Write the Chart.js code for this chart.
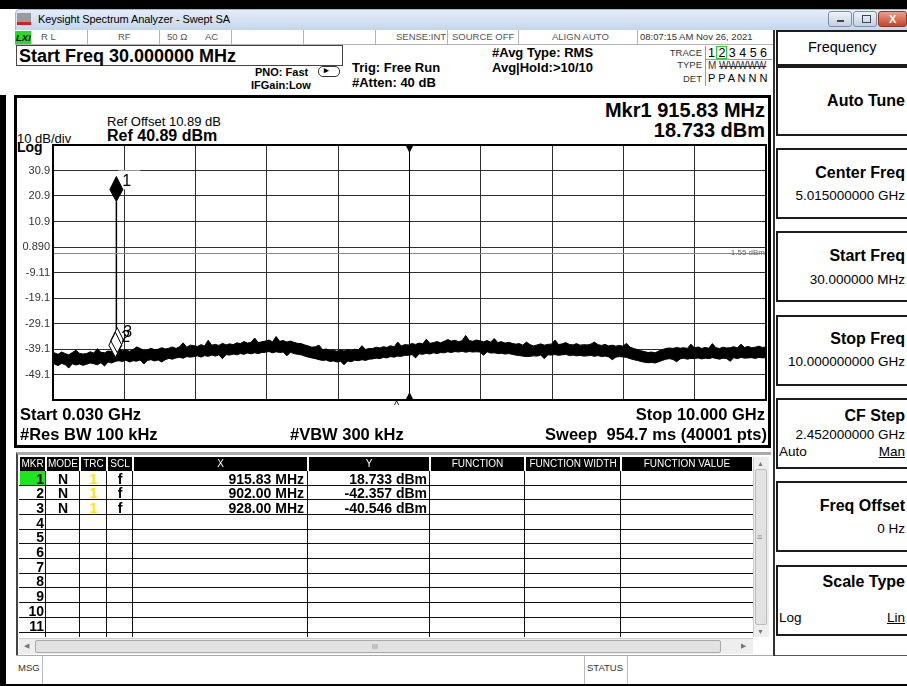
<!DOCTYPE html>
<html>
<head>
<meta charset="utf-8">
<title>Keysight Spectrum Analyzer - Swept SA</title>
<script src="https://cdn.jsdelivr.net/npm/chart.js@4.4.1/dist/chart.umd.min.js"></script>
<style>
html, body { margin: 0; padding: 0; }
body { width: 907px; height: 686px; position: relative; overflow: hidden; background: #fff; font-family: "Liberation Sans", Arial, sans-serif; color: #000; }
.a { position: absolute; white-space: pre; line-height: 1; }
.b { font-weight: bold; }
.st { font-size: 9.5px; color: #555; }
.sep { position: absolute; top: 30px; width: 1px; height: 14px; background: #b4b4b4; }
.sk { position: absolute; left: 776px; width: 131px; border: 2px solid #1c1c1c; border-right: none; box-sizing: border-box; background: #fff; }
.skt { font-size: 16px; font-weight: bold; right: 2px; }
.skv { font-size: 13.5px; right: 2px; }
.wb { position: absolute; top: 11px; height: 16px; border: 1px solid #7d8ea5; border-radius: 3px; box-sizing: border-box; background: linear-gradient(#eef3fa, #c3d1e4); }
.hd { position: absolute; top: 457px; height: 14px; background: #000; color: #fff; font-size: 10px; line-height: 14px; text-align: center; }
.cell { position: absolute; font-size: 14px; font-weight: bold; line-height: 14px; }
</style>
</head>
<body>

<!-- window frame -->
<div class="a" style="left:0;top:0;width:907px;height:9px;background:#000"></div>
<div class="a" style="left:0;top:95px;width:6px;height:591px;background:#000"></div>
<div class="a" style="left:0;top:684px;width:907px;height:2px;background:#000"></div>

<!-- title bar -->
<div class="a" style="left:15px;top:9px;width:892px;height:21px;background:linear-gradient(#e4edf8,#c5d6eb);border-top:1px solid #9fb4cf;border-left:1px solid #9fb4cf;border-radius:5px 0 0 0;box-sizing:border-box"></div>
<div class="a" style="left:17px;top:13px;width:14px;height:12px;background:#9a9a9a;border-bottom:3px solid #d42020;box-sizing:border-box"></div>
<div class="a" style="left:38px;top:14px;font-size:11px;letter-spacing:-0.1px">Keysight Spectrum Analyzer - Swept SA</div>
<div class="wb" style="left:828px;width:24px"><div class="a" style="left:8px;top:8px;width:7px;height:2px;background:#444"></div></div>
<div class="wb" style="left:853px;width:24px"><div class="a" style="left:8px;top:3px;width:7px;height:6px;border:1px solid #444"></div></div>
<div class="wb" style="left:878px;width:29px;background:linear-gradient(#e9a08e,#c4452c);border-color:#8b3a2c"><div class="a b" style="left:10px;top:2px;font-size:11px;color:#fff">X</div></div>

<!-- status row -->
<div class="a" style="left:15px;top:30px;width:758px;height:15px;border-bottom:1px solid #b4b4b4;box-sizing:border-box"></div>
<div class="a" style="left:15px;top:31px;width:16px;height:13px;background:#22dd22"></div>
<div class="a b" style="left:16px;top:33px;font-size:9.5px;font-style:italic">LXI</div>
<div class="a st" style="left:41px;top:32px">R L</div>
<div class="sep" style="left:87px"></div>
<div class="a st" style="left:118px;top:32px">RF</div>
<div class="sep" style="left:159px"></div>
<div class="a st" style="left:167px;top:32px">50 Ω</div>
<div class="a st" style="left:205px;top:32px">AC</div>
<div class="sep" style="left:231px"></div>
<div class="sep" style="left:303px"></div>
<div class="sep" style="left:375px"></div>
<div class="a st" style="left:396px;top:32px">SENSE:INT</div>
<div class="sep" style="left:447px"></div>
<div class="a st" style="left:452px;top:32px">SOURCE OFF</div>
<div class="sep" style="left:518px"></div>
<div class="a st" style="left:552px;top:32px">ALIGN AUTO</div>
<div class="sep" style="left:637px"></div>
<div class="a st" style="left:640px;top:32px;color:#333">08:07:15 AM Nov 26, 2021</div>

<!-- settings -->
<div class="a" style="left:16px;top:45px;width:327px;height:21px;border:1px solid #444;box-sizing:border-box"></div>
<div class="a b" style="left:19px;top:47px;font-size:18px">Start Freq 30.000000 MHz</div>
<div class="a b" style="left:255px;top:67px;font-size:11px">PNO: Fast</div>
<div class="a" style="left:318px;top:66px;width:20px;height:9px;border:1px solid #333;border-radius:5px"></div>
<div class="a b" style="left:324px;top:66px;font-size:9px">&#9656;</div>
<div class="a b" style="left:251px;top:80px;font-size:11px">IFGain:Low</div>
<div class="a b" style="left:352px;top:61px;font-size:13px">Trig: Free Run</div>
<div class="a b" style="left:352px;top:76px;font-size:13px">#Atten: 40 dB</div>
<div class="a b" style="left:492px;top:46px;font-size:13px">#Avg Type: RMS</div>
<div class="a b" style="left:492px;top:61px;font-size:13px">Avg|Hold:&gt;10/10</div>

<div class="a" style="right:205px;top:48px;font-size:9.5px;color:#333">TRACE</div>
<div class="a" style="right:205px;top:60px;font-size:9.5px;color:#333">TYPE</div>
<div class="a" style="right:205px;top:74px;font-size:9.5px;color:#333">DET</div>
<div class="a" style="left:705px;top:46px;width:1px;height:40px;background:#999"></div>
<div class="a" style="left:705px;top:59px;width:67px;height:1px;background:#999"></div>
<div class="a" style="left:716px;top:46px;width:11px;height:13px;border:1px solid #3c3;box-sizing:border-box"></div>
<div class="a" style="left:708px;top:47px;font-size:12.5px">1 2 3 4 5 6</div>
<div class="a" style="left:708px;top:61px;font-size:10px;color:#333">M <s>WWWWW</s></div>
<div class="a" style="left:708px;top:73px;font-size:11px">P P A N N N</div>

<!-- plot frame -->
<div class="a" style="left:14px;top:95px;width:757px;height:353px;border:3px solid #000;box-sizing:border-box"></div>
<div class="a" style="left:107px;top:115px;font-size:13px">Ref Offset 10.89 dB</div>
<div class="a b" style="left:107px;top:128px;font-size:16px">Ref 40.89 dBm</div>
<div class="a" style="left:17px;top:132px;font-size:13px">10 dB/div</div>
<div class="a b" style="left:17px;top:140px;font-size:14px">Log</div>
<div class="a b" style="right:142px;top:100px;font-size:20px">Mkr1 915.83 MHz</div>
<div class="a b" style="right:142px;top:120px;font-size:20px">18.733 dBm</div>
<div class="a" style="left:18px;top:99px;width:750px;height:347px"><canvas id="sa" width="750" height="347"></canvas></div>
<div class="a" style="left:394px;top:400px;font-size:11px">^</div>
<div class="a b" style="left:20px;top:406px;font-size:16.5px">Start 0.030 GHz</div>
<div class="a b" style="right:142px;top:406px;font-size:16.5px">Stop 10.000 GHz</div>
<div class="a b" style="left:20px;top:426px;font-size:16.5px">#Res BW 100 kHz</div>
<div class="a b" style="left:290px;top:426px;font-size:16.5px">#VBW 300 kHz</div>
<div class="a b" style="right:140px;top:426px;font-size:16.5px">Sweep  954.7 ms (40001 pts)</div>

<!-- marker table -->
<div class="a" style="left:16px;top:452px;width:755px;height:203px;border-left:2px solid #444;border-top:3px solid #aaa;box-sizing:border-box"></div>
<div id="table"></div>
<div class="a" style="left:753px;top:457px;width:16px;height:180px;background:#eee;border-left:1px solid #ccc;box-sizing:border-box"></div>
<div class="a" style="left:757px;top:460px;font-size:7px;color:#777">&#9650;</div>
<div class="a" style="left:755px;top:469px;width:12px;height:156px;background:#e2e2e2;border:1px solid #bbb;border-radius:2px;box-sizing:border-box"></div>
<div class="a" style="left:757px;top:533px;font-size:9px;color:#888">&#8801;</div>
<div class="a" style="left:757px;top:628px;font-size:7px;color:#777">&#9660;</div>
<div class="a" style="left:19px;top:638px;width:734px;height:16px;background:#eee;border-top:1px solid #ccc;box-sizing:border-box"></div>
<div class="a" style="left:24px;top:642px;font-size:7px;color:#777">&#9664;</div>
<div class="a" style="left:35px;top:640px;width:686px;height:13px;background:#e2e2e2;border:1px solid #aaa;border-radius:2px;box-sizing:border-box"></div>
<div class="a" style="left:372px;top:643px;font-size:7px;color:#888">III</div>
<div class="a" style="left:741px;top:642px;font-size:7px;color:#777">&#9654;</div>

<!-- message bar -->
<div class="a" style="left:16px;top:655px;width:891px;height:1px;background:#aaa"></div>
<div class="a" style="left:18px;top:663px;font-size:9.5px;color:#333">MSG</div>
<div class="a" style="left:42px;top:656px;width:1px;height:28px;background:#bbb"></div>
<div class="a" style="left:584px;top:656px;width:1px;height:28px;background:#bbb"></div>
<div class="a" style="left:587px;top:663px;font-size:9.5px;color:#333">STATUS</div>
<div class="a" style="left:627px;top:656px;width:1px;height:28px;background:#bbb"></div>

<!-- softkey panel -->
<div class="a" style="left:773px;top:30px;width:2px;height:626px;background:#333"></div>
<div class="sk" style="top:30px;height:36px"></div>
<div class="a" style="left:808px;top:40px;font-size:14.5px">Frequency</div>
<div class="sk" style="top:66px;height:70px"></div>
<div class="a skt" style="top:93px">Auto Tune</div>
<div class="sk" style="top:148px;height:71px"></div>
<div class="a skt" style="top:165px">Center Freq</div>
<div class="a skv" style="top:189px">5.015000000 GHz</div>
<div class="sk" style="top:231px;height:71px"></div>
<div class="a skt" style="top:248px">Start Freq</div>
<div class="a skv" style="top:273px">30.000000 MHz</div>
<div class="sk" style="top:315px;height:71px"></div>
<div class="a skt" style="top:331px">Stop Freq</div>
<div class="a skv" style="top:355px">10.000000000 GHz</div>
<div class="sk" style="top:398px;height:71px"></div>
<div class="a skt" style="top:408px">CF Step</div>
<div class="a skv" style="top:428px">2.452000000 GHz</div>
<div class="a" style="left:779px;top:445px;font-size:13.5px">Auto</div>
<div class="a skv" style="top:445px;text-decoration:underline">Man</div>
<div class="sk" style="top:481px;height:71px"></div>
<div class="a skt" style="top:498px">Freq Offset</div>
<div class="a skv" style="top:522px">0 Hz</div>
<div class="sk" style="top:565px;height:71px"></div>
<div class="a skt" style="top:574px">Scale Type</div>
<div class="a" style="left:779px;top:611px;font-size:13.5px">Log</div>
<div class="a skv" style="top:611px;text-decoration:underline">Lin</div>
<div class="a" style="left:775px;top:655px;width:132px;height:1px;background:#555"></div>

<script>
// sweep: 0.030 - 10.000 GHz, trace 1 shown as max/min envelope of the noise floor
const freqGHz = [
  0.03, 0.05, 0.10, 0.15, 0.20, 0.25, 0.30, 0.35, 0.40, 0.45,
  0.50, 0.55, 0.60, 0.65, 0.70, 0.75, 0.80, 0.85, 0.90, 0.95,
  1.00, 1.05, 1.10, 1.15, 1.20, 1.25, 1.30, 1.35, 1.40, 1.45,
  1.50, 1.55, 1.60, 1.65, 1.70, 1.75, 1.80, 1.85, 1.90, 1.95,
  2.00, 2.05, 2.10, 2.15, 2.20, 2.25, 2.30, 2.35, 2.40, 2.45,
  2.50, 2.55, 2.60, 2.65, 2.70, 2.75, 2.80, 2.85, 2.90, 2.95,
  3.00, 3.05, 3.10, 3.15, 3.20, 3.25, 3.30, 3.35, 3.40, 3.45,
  3.50, 3.55, 3.60, 3.65, 3.70, 3.75, 3.80, 3.85, 3.90, 3.95,
  4.00, 4.05, 4.10, 4.15, 4.20, 4.25, 4.30, 4.35, 4.40, 4.45,
  4.50, 4.55, 4.60, 4.65, 4.70, 4.75, 4.80, 4.85, 4.90, 4.95,
  5.00, 5.05, 5.10, 5.15, 5.20, 5.25, 5.30, 5.35, 5.40, 5.45,
  5.50, 5.55, 5.60, 5.65, 5.70, 5.75, 5.80, 5.85, 5.90, 5.95,
  6.00, 6.05, 6.10, 6.15, 6.20, 6.25, 6.30, 6.35, 6.40, 6.45,
  6.50, 6.55, 6.60, 6.65, 6.70, 6.75, 6.80, 6.85, 6.90, 6.95,
  7.00, 7.05, 7.10, 7.15, 7.20, 7.25, 7.30, 7.35, 7.40, 7.45,
  7.50, 7.55, 7.60, 7.65, 7.70, 7.75, 7.80, 7.85, 7.90, 7.95,
  8.00, 8.05, 8.10, 8.15, 8.20, 8.25, 8.30, 8.35, 8.40, 8.45,
  8.50, 8.55, 8.60, 8.65, 8.70, 8.75, 8.80, 8.85, 8.90, 8.95,
  9.00, 9.05, 9.10, 9.15, 9.20, 9.25, 9.30, 9.35, 9.40, 9.45,
  9.50, 9.55, 9.60, 9.65, 9.70, 9.75, 9.80, 9.85, 9.90, 9.95,
  10.00
];
const traceMax = [
  -41.0, -40.6, -41.2, -40.3, -40.9, -41.4, -40.5, -39.6, -40.8, -41.1,
  -40.9, -40.2, -40.7, -39.0, -40.4, -40.6, -39.9, -40.1, -39.5, -39.2,
  -39.8, -39.4, -40.0, -39.3, -38.3, -38.9, -39.6, -39.5, -38.8, -39.4,
  -39.2, -38.6, -39.1, -38.8, -38.3, -38.9, -38.2, -36.7, -38.4, -37.6,
  -37.8, -38.1, -37.4, -37.9, -35.7, -37.6, -37.3, -37.7, -36.9, -37.5,
  -37.1, -37.4, -36.7, -37.0, -36.2, -36.8, -36.5, -34.8, -36.6, -36.3,
  -36.0, -35.6, -36.3, -34.2, -36.1, -35.8, -36.4, -36.0, -36.5, -36.9,
  -37.0, -37.5, -37.9, -38.4, -38.2, -37.6, -39.4, -39.1, -39.7, -39.6,
  -40.0, -39.5, -39.9, -39.4, -39.7, -39.2, -39.5, -37.8, -39.3, -38.9,
  -38.9, -38.4, -38.7, -38.2, -38.5, -37.8, -38.3, -36.4, -37.9, -37.4,
  -37.5, -37.0, -37.3, -36.8, -37.1, -35.3, -36.9, -36.6, -36.2, -36.7,
  -36.1, -35.4, -36.0, -35.7, -36.2, -35.9, -33.8, -35.8, -36.1, -35.6,
  -35.9, -36.3, -35.8, -36.4, -35.0, -36.6, -36.2, -36.8, -36.5, -36.9,
  -37.2, -37.0, -37.6, -36.4, -37.4, -37.9, -37.5, -37.1, -37.6, -37.3,
  -37.2, -35.6, -37.4, -37.1, -36.6, -37.3, -37.5, -37.0, -37.6, -37.4,
  -37.5, -37.2, -36.4, -37.4, -37.7, -37.3, -37.9, -37.6, -38.0, -37.7,
  -38.0, -36.9, -38.4, -38.9, -39.3, -39.8, -40.1, -40.5, -40.3, -40.6,
  -39.9, -39.4, -38.9, -38.7, -38.9, -38.5, -38.8, -38.6, -38.9, -37.2,
  -38.7, -38.3, -38.9, -38.5, -38.8, -37.0, -38.6, -38.9, -38.4, -38.7,
  -38.6, -38.2, -38.7, -37.2, -38.5, -38.1, -38.6, -38.4, -38.0, -38.5,
  -38.3
];
const traceMin = [
  -45.3, -45.0, -45.6, -44.8, -45.2, -46.6, -44.9, -45.4, -45.0, -45.5,
  -45.1, -44.6, -44.9, -45.3, -44.5, -45.8, -44.2, -44.6, -44.0, -43.7,
  -44.0, -43.5, -44.2, -43.7, -43.9, -43.4, -45.0, -43.6, -43.3, -43.8,
  -43.4, -44.2, -43.3, -42.8, -43.1, -42.6, -42.4, -42.7, -42.1, -42.3,
  -42.1, -41.8, -42.3, -41.7, -42.0, -41.5, -41.9, -41.4, -42.9, -41.3,
  -41.5, -41.1, -41.4, -40.9, -41.2, -40.7, -41.0, -40.6, -40.9, -40.5,
  -40.4, -40.1, -40.6, -40.2, -40.5, -40.3, -41.8, -40.4, -40.9, -41.2,
  -41.4, -41.9, -42.3, -42.6, -42.9, -43.3, -43.6, -43.4, -44.0, -43.8,
  -44.2, -43.9, -45.3, -43.8, -44.1, -43.5, -43.7, -43.3, -43.6, -43.1,
  -43.0, -42.7, -42.9, -42.4, -42.6, -42.1, -42.3, -41.9, -42.0, -41.6,
  -41.6, -41.3, -42.6, -41.0, -41.2, -40.8, -41.1, -40.6, -40.9, -40.5,
  -40.6, -40.2, -40.5, -40.1, -40.3, -40.0, -40.4, -40.1, -40.3, -40.2,
  -40.3, -41.6, -40.2, -40.7, -40.6, -40.9, -40.8, -41.1, -40.9, -41.2,
  -41.5, -41.7, -41.9, -42.1, -42.0, -41.8, -41.9, -41.5, -42.9, -41.4,
  -41.5, -41.3, -41.6, -41.4, -41.2, -41.7, -41.5, -41.8, -41.6, -41.9,
  -41.8, -41.6, -42.0, -41.7, -42.1, -41.9, -42.2, -43.3, -42.3, -42.1,
  -42.2, -42.4, -42.9, -43.3, -43.6, -44.0, -44.3, -44.5, -44.4, -44.6,
  -44.1, -43.6, -43.1, -42.9, -43.2, -44.1, -43.0, -42.7, -43.1, -42.8,
  -42.9, -42.6, -43.0, -42.7, -42.9, -42.5, -42.8, -43.1, -42.7, -42.9,
  -43.9, -42.5, -42.9, -42.4, -42.7, -42.6, -42.5, -42.8, -42.4, -42.6,
  -42.5
];
// CW carrier picked by marker 1
const signalFreq = [0.9150, 0.91583, 0.9166];
const signalDbm = [-41.5, 18.733, -41.0];

const markerNum = [1, 2, 3];
const markerFreq = [0.91583, 0.902, 0.928];
const markerDbm = [18.733, -42.357, -40.546];

const yTickValues = [-59.11, -49.11, -39.11, -29.11, -19.11, -9.11, 0.89, 10.89, 20.89, 30.89, 40.89];
const yTickLabels = ["", "-49.1", "-39.1", "-29.1", "-19.1", "-9.11", "0.890", "10.9", "20.9", "30.9", ""];
const xTickValues = [0.03, 1.027, 2.024, 3.021, 4.018, 5.015, 6.012, 7.009, 8.006, 9.003, 10.0];
const startGHz = 0.03;
const stopGHz = 10.0;
const centerGHz = 5.015;
const displayLineDbm = -1.55;
const tableRows = 11;

// marker table
const colX = [19, 46, 80, 107, 133, 308, 430, 525, 621, 753];
const colNames = ["MKR", "MODE", "TRC", "SCL", "X", "Y", "FUNCTION", "FUNCTION WIDTH", "FUNCTION VALUE"];
let t = "";
colNames.forEach((n, i) => {
  t += `<div class="hd" style="left:${colX[i] + 1}px;width:${colX[i + 1] - colX[i] - 2}px">${n}</div>`;
});
for (let r = 0; r < tableRows; r++) {
  const top = 471 + r * 14.7;
  if (r === 0) t += `<div class="a" style="left:20px;top:${top}px;width:25px;height:14px;background:#1ee61e"></div>`;
  t += `<div class="a" style="left:19px;top:${top + 13.5}px;width:734px;height:1px;background:#111"></div>`;
  t += `<div class="cell" style="left:20px;top:${top + 0.5}px;width:24px;text-align:right">${r + 1}</div>`;
  if (r < markerNum.length) {
    t += `<div class="cell" style="left:46px;top:${top + 0.5}px;width:34px;text-align:center">N</div>`;
    t += `<div class="cell" style="left:80px;top:${top + 0.5}px;width:27px;text-align:center;color:#ffe600">1</div>`;
    t += `<div class="cell" style="left:107px;top:${top + 0.5}px;width:26px;text-align:center">f</div>`;
    t += `<div class="cell" style="left:133px;top:${top + 0.5}px;width:171px;text-align:right">${(markerFreq[r] * 1000).toFixed(2)} MHz</div>`;
    t += `<div class="cell" style="left:308px;top:${top + 0.5}px;width:119px;text-align:right">${markerDbm[r].toFixed(3)} dBm</div>`;
  }
}
for (let i = 1; i < colX.length - 1; i++) {
  t += `<div class="a" style="left:${colX[i] - 1}px;top:471px;width:1px;height:166px;background:#111"></div>`;
}
document.getElementById("table").innerHTML = t;

// markers, display line, graticule border, centre triangles
const overlay = {
  id: "overlay",
  afterDatasetsDraw(chart) {
    const { ctx, chartArea: a, scales: { x, y } } = chart;
    ctx.save();

    const dy = Math.round(y.getPixelForValue(displayLineDbm)) + 0.5;
    ctx.strokeStyle = "#8c8c8c";
    ctx.lineWidth = 1;
    ctx.beginPath();
    ctx.moveTo(a.left, dy);
    ctx.lineTo(a.right, dy);
    ctx.stroke();
    ctx.font = '8px "Liberation Sans"';
    ctx.fillStyle = "#666";
    ctx.textAlign = "right";
    ctx.textBaseline = "middle";
    ctx.fillText(displayLineDbm.toFixed(2) + " dBm", a.right - 1, dy - 1);

    ctx.strokeStyle = "#000";
    ctx.lineWidth = 2;
    ctx.strokeRect(a.left, a.top, a.right - a.left, a.bottom - a.top);

    const cx = Math.round(x.getPixelForValue(centerGHz)) + 0.5;
    ctx.lineWidth = 1;
    ctx.beginPath();
    ctx.moveTo(cx, a.top);
    ctx.lineTo(cx, a.bottom);
    ctx.stroke();
    ctx.fillStyle = "#000";
    ctx.beginPath();
    ctx.moveTo(cx - 4, a.top);
    ctx.lineTo(cx + 4, a.top);
    ctx.lineTo(cx, a.top + 8);
    ctx.fill();
    ctx.beginPath();
    ctx.moveTo(cx - 4, a.bottom);
    ctx.lineTo(cx + 4, a.bottom);
    ctx.lineTo(cx, a.bottom - 8);
    ctx.fill();

    const pts = markerFreq.map((f, i) => ({ px: x.getPixelForValue(f), py: y.getPixelForValue(markerDbm[i]) }));
    const diamond = (p) => {
      ctx.beginPath();
      ctx.moveTo(p.px, p.py);
      ctx.lineTo(p.px + 6.5, p.py - 12);
      ctx.lineTo(p.px, p.py - 25);
      ctx.lineTo(p.px - 6.5, p.py - 12);
      ctx.closePath();
    };
    // label background for the active marker
    ctx.fillStyle = "#fff";
    ctx.fillRect(pts[0].px + 2, pts[0].py - 31, 22, 19);

    ctx.lineWidth = 1;
    for (let i = markerNum.length - 1; i >= 1; i--) {
      diamond(pts[i]);
      ctx.fillStyle = "#fff";
      ctx.fill();
    }
    for (let i = markerNum.length - 1; i >= 1; i--) {
      diamond(pts[i]);
      ctx.strokeStyle = "#000";
      ctx.stroke();
    }
    diamond(pts[0]);
    ctx.fillStyle = "#000";
    ctx.fill();
    ctx.stroke();

    ctx.font = '16px "Liberation Sans"';
    ctx.textAlign = "left";
    ctx.textBaseline = "middle";
    ctx.fillStyle = "#000";
    for (let i = markerNum.length - 1; i >= 0; i--) {
      ctx.fillText(String(markerNum[i]), pts[i].px + 6, pts[i].py - 20);
    }
    ctx.restore();
  }
};

new Chart(document.getElementById("sa"), {
  type: "line",
  data: {
    datasets: [
      {
        data: freqGHz.map((f, i) => ({ x: f, y: traceMax[i] })),
        borderColor: "#000",
        backgroundColor: "#000",
        borderWidth: 1,
        pointRadius: 0,
        fill: "+1"
      },
      {
        data: freqGHz.map((f, i) => ({ x: f, y: traceMin[i] })),
        borderColor: "#000",
        borderWidth: 1,
        pointRadius: 0,
        fill: false
      },
      {
        data: signalFreq.map((f, i) => ({ x: f, y: signalDbm[i] })),
        borderColor: "#000",
        borderWidth: 1.5,
        pointRadius: 0,
        fill: false
      }
    ]
  },
  options: {
    responsive: false,
    animation: false,
    events: [],
    layout: { padding: { top: 46, bottom: 46, left: 0, right: 2 } },
    plugins: { legend: { display: false }, tooltip: { enabled: false } },
    scales: {
      x: {
        type: "linear",
        min: startGHz,
        max: stopGHz,
        afterBuildTicks: (s) => { s.ticks = xTickValues.map(v => ({ value: v })); },
        afterFit: (s) => { s.height = 0; },
        ticks: { display: false },
        grid: { color: "#2e2e2e", lineWidth: 1, drawTicks: false },
        border: { display: false }
      },
      y: {
        type: "linear",
        min: yTickValues[0],
        max: yTickValues[yTickValues.length - 1],
        afterBuildTicks: (s) => { s.ticks = yTickValues.map(v => ({ value: v })); },
        afterFit: (s) => { s.width = 35; },
        ticks: {
          autoSkip: false,
          padding: 3,
          color: "#333",
          font: { family: "Liberation Sans", size: 11 },
          callback: (v, i) => yTickLabels[i]
        },
        grid: { color: "#2e2e2e", lineWidth: 1, drawTicks: false },
        border: { display: false }
      }
    }
  },
  plugins: [overlay]
});
</script>
</body>
</html>
